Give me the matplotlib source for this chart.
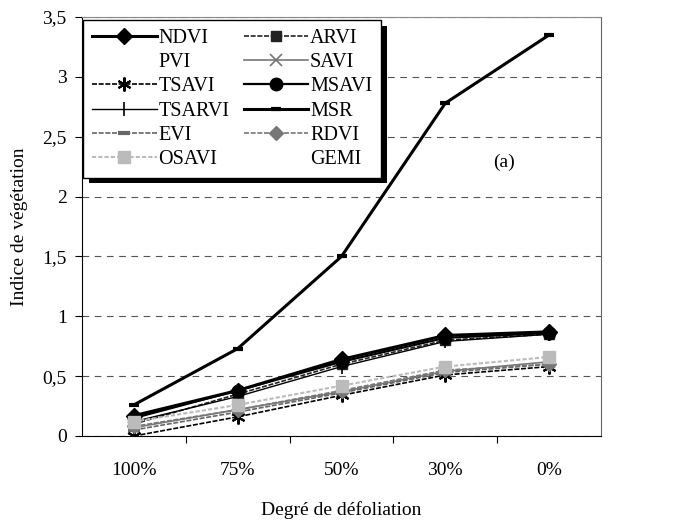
import matplotlib
matplotlib.use("Agg")
import matplotlib.pyplot as plt
from matplotlib.ticker import FuncFormatter, FixedLocator
import matplotlib.patheffects as pe

plt.rcParams['font.family'] = ['Liberation Serif', 'DejaVu Serif']

categories = ["100%", "75%", "50%", "30%", "0%"]

NDVI   = [0.17, 0.38, 0.64, 0.84, 0.87]
ARVI   = [0.10, 0.35, 0.60, 0.80, 0.85]
PVI    = [0.14, 0.34, 0.62, 0.82, 0.88]
SAVI   = [0.07, 0.22, 0.37, 0.54, 0.62]
TSAVI  = [0.00, 0.16, 0.34, 0.51, 0.58]
MSAVI  = [0.15, 0.38, 0.62, 0.82, 0.86]
TSARVI = [0.12, 0.33, 0.58, 0.79, 0.85]
MSR    = [0.26, 0.73, 1.50, 2.78, 3.35]
EVI    = [0.05, 0.20, 0.36, 0.53, 0.60]
RDVI   = [0.08, 0.22, 0.38, 0.55, 0.60]
OSAVI  = [0.12, 0.26, 0.42, 0.58, 0.66]
GEMI   = [0.10, 0.24, 0.40, 0.56, 0.63]

fig = plt.figure(figsize=(6.73, 5.23), dpi=100)
ax = fig.add_axes([82/673, 1-436/523, (601-82)/673, (436-17)/523])

x = list(range(len(categories)))

styles = [
    ("NDVI", NDVI, dict(color='black', lw=2.2, marker='D', ms=8)),
    ("ARVI", ARVI, dict(color='#222222', lw=1.2, ls=(0, (3, 1)), marker='s', ms=7)),
    ("PVI", PVI, dict(color='none', lw=1, marker='None')),
    ("SAVI", SAVI, dict(color='#777777', lw=1.2, marker='x', ms=9, mew=1.2)),
    ("TSAVI", TSAVI, dict(color='black', lw=1.2, ls=(0, (3, 1)), marker=(6, 2, 0), ms=10, mew=1.5)),
    ("MSAVI", MSAVI, dict(color='black', lw=1.6, marker='o', ms=9)),
    ("TSARVI", TSARVI, dict(color='black', lw=1.0, marker='|', ms=10, mew=1.2)),
    ("MSR", MSR, dict(color='black', lw=2.2, marker='_', ms=7, mew=3)),
    ("EVI", EVI, dict(color='#666666', lw=1.2, ls=(0, (3, 1)), marker='_', ms=9, mew=3)),
    ("RDVI", RDVI, dict(color='#777777', lw=1.2, ls=(0, (3, 1)), marker='D', ms=7)),
    ("OSAVI", OSAVI, dict(color='#bbbbbb', lw=1.5, ls=(0, (2, 1)), marker='s', ms=9)),
    ("GEMI", GEMI, dict(color='none', lw=1, marker='None')),
]

handles = {}
for name, vals, st in styles:
    h, = ax.plot(x, vals, label=name, **st)
    handles[name] = h

ax.set_xlim(-0.5, 4.5)
ax.set_ylim(0, 3.5)
ax.set_yticks([0, 0.5, 1, 1.5, 2, 2.5, 3, 3.5])
ax.yaxis.set_major_formatter(FuncFormatter(lambda v, p: ('%g' % v).replace('.', ',')))
ax.xaxis.set_major_locator(FixedLocator([0.5, 1.5, 2.5, 3.5]))
ax.xaxis.set_minor_locator(FixedLocator(x))
ax.xaxis.set_major_formatter(FuncFormatter(lambda v, p: ''))
ax.set_xticklabels(categories, minor=True)
ax.tick_params(axis='x', which='minor', length=0, pad=19, labelsize=14)
ax.tick_params(axis='x', which='major', length=5, direction='out', width=0.8)
ax.tick_params(axis='y', length=5, direction='out', width=0.8, labelsize=14, pad=6)

ax.yaxis.grid(True, ls=(0, (6, 5)), color='#555555', lw=0.8)
ax.set_axisbelow(True)
for s in ax.spines.values():
    s.set_linewidth(0.8)
ax.spines['top'].set_color('#888888')
ax.spines['right'].set_color('#666666')

ax.set_xlabel("Degré de défoliation", fontsize=14, labelpad=16)
ax.set_ylabel("Indice de végétation", fontsize=14, labelpad=10)

ax.text(0.792, 0.654, "(a)", transform=ax.transAxes, fontsize=14, va='center')

order = ["NDVI", "PVI", "TSAVI", "TSARVI", "EVI", "OSAVI",
         "ARVI", "SAVI", "MSAVI", "MSR", "RDVI", "GEMI"]
leg = ax.legend([handles[n] for n in order], order, ncol=2,
                loc='upper left', bbox_to_anchor=(83/673, 1-20/523),
                bbox_transform=fig.transFigure, borderaxespad=0,
                fontsize=14.5, frameon=True, fancybox=False, framealpha=1,
                handlelength=3.2, handletextpad=0.1, labelspacing=0.25,
                columnspacing=0.7, borderpad=0.45)
leg.get_frame().set_edgecolor('black')
leg.get_frame().set_facecolor('white')
leg.get_frame().set_linewidth(1.0)
leg.get_frame().set_path_effects([
    pe.SimplePatchShadow(offset=(4, -4), shadow_rgbFace='black', alpha=1),
    pe.Normal()])

fig.savefig("out.png", dpi=100)
